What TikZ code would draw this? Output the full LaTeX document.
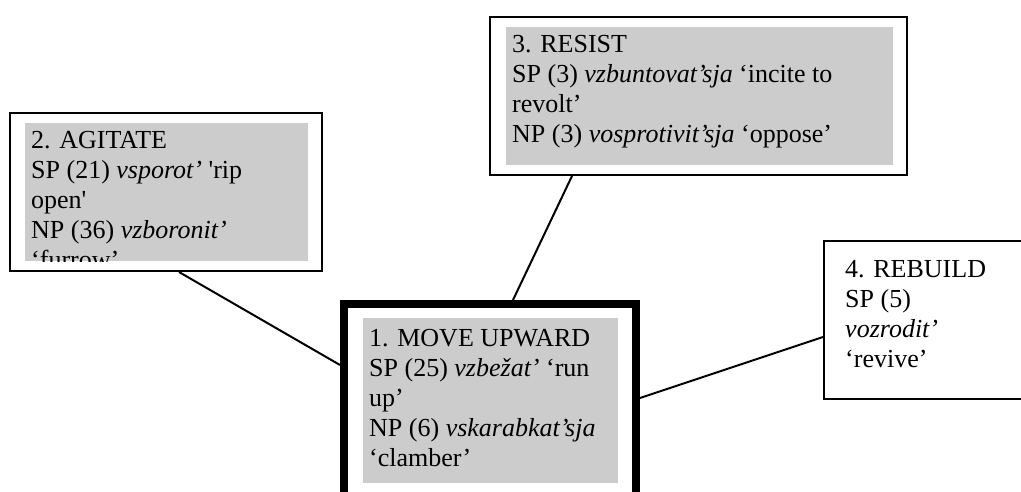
\documentclass[tikz,border=0pt]{standalone}
\usepackage{fontspec}
\setmainfont{Liberation Serif}

\tikzset{
        sensebox/.style={draw=black, line width=2pt, inner sep=0pt},
        corebox/.style={draw=black, line width=8pt, inner sep=0pt},
        greyfill/.style={fill=black!20},
        entry/.style={anchor=base west, align=left, inner sep=0pt, font=\fontsize{26pt}{30pt}\selectfont},
        link/.style={line width=2pt}
}

\begin{document}
\begin{tikzpicture}[x=1pt, y=-1pt]
        \clip (0,0) rectangle (1021,492);

        \node[sensebox, minimum width=312pt, minimum height=158pt] (agitate) at (166,192) {};
        \node[sensebox, minimum width=417pt, minimum height=158pt] (resist) at (698.5,96) {};
        \node[sensebox, minimum width=226pt, minimum height=158pt] (rebuild) at (937,320) {};
        \node[corebox, minimum width=292pt, minimum height=256pt] (moveup) at (490,432) {};

        \coordinate (agitate-s) at ([xshift=170pt]agitate.south west);
        \coordinate (resist-s) at ([xshift=83pt]resist.south west);
        \coordinate (rebuild-w) at ([yshift=-97pt]rebuild.north west);
        \coordinate (moveup-w) at ([yshift=-65pt]moveup.north west);
        \coordinate (moveup-n) at ([xshift=173pt]moveup.north west);
        \coordinate (moveup-e) at ([yshift=-98pt]moveup.north east);

        \draw[link] (agitate-s) -- (moveup-w);
        \draw[link] (resist-s) -- (moveup-n);
        \draw[link] (moveup-e) -- (rebuild-w);

        \fill[greyfill] (25,123) rectangle (308,261);
        \fill[greyfill] (506,27) rectangle (893,165);
        \fill[greyfill] (363,318) rectangle (618,483);

        \begin{scope}
                \clip (25,123) rectangle (308,261);
                \node[entry] (agitate-text) at (31,268) {2. AGITATE\\SP (21) \textit{vsporot’} \textquotesingle rip\\open\textquotesingle\\NP (36) \textit{vzboronit’}\\‘furrow’};
        \end{scope}
        \node[entry] (resist-text) at (512,143) {3. RESIST\\SP (3) \textit{vzbuntovat’sja} ‘incite to\\revolt’\\NP (3) \textit{vosprotivit’sja} ‘oppose’};
        \node[entry] (moveup-text) at (369,466) {1. MOVE UPWARD\\SP (25) \textit{vzbežat’} ‘run\\up’\\NP (6) \textit{vskarabkat’sja}\\‘clamber’};
        \node[entry] (rebuild-text) at (845,367) {4. REBUILD\\SP (5)\\\textit{vozrodit’}\\‘revive’};

\end{tikzpicture}
\end{document}
